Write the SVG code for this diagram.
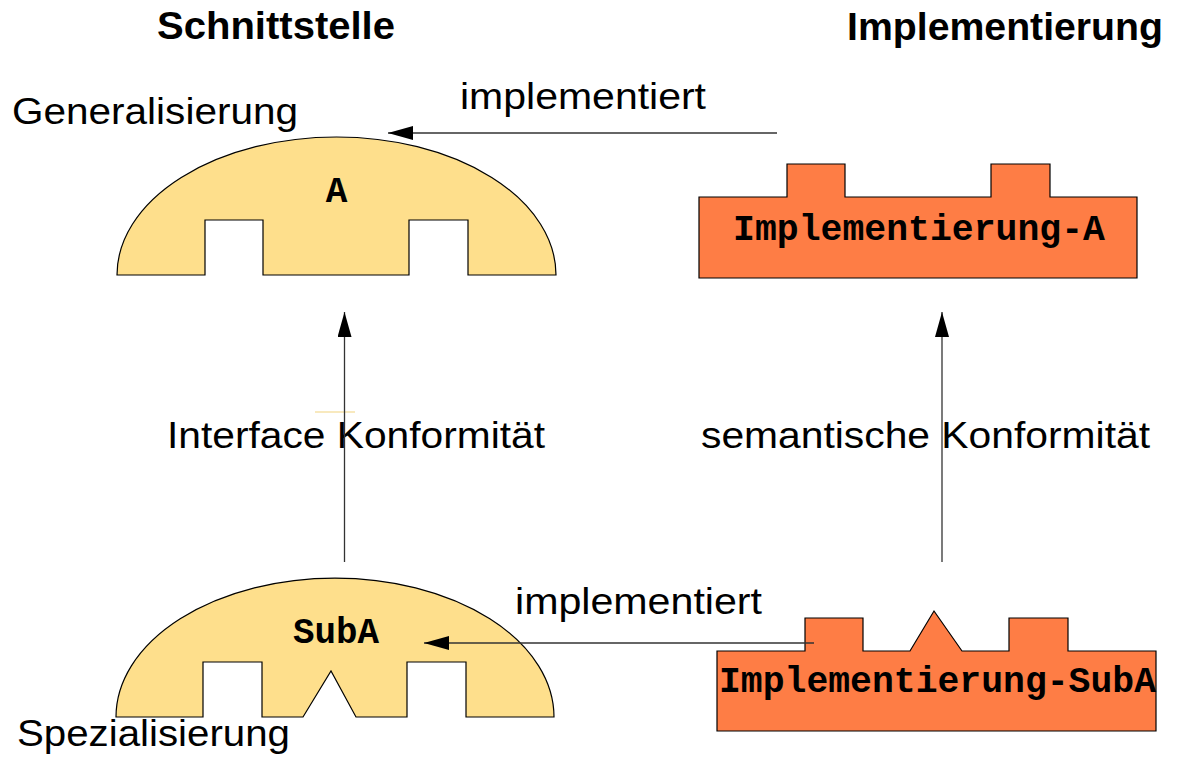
<svg xmlns="http://www.w3.org/2000/svg" width="1185" height="758" viewBox="0 0 1185 758">
<defs>
<style>
.iface{fill:#FEDF8C;stroke:#000;stroke-width:1.2;stroke-linejoin:miter}
.impl{fill:#FE7D45;stroke:#000;stroke-width:1.2;stroke-linejoin:miter}
.mono{font-family:"Liberation Mono","Courier New",monospace;font-weight:bold;font-size:36px;fill:#000}
.lbl{font-family:"Liberation Sans",Arial,sans-serif;font-size:36px;fill:#000}
.head{font-family:"Liberation Sans",Arial,sans-serif;font-size:38px;font-weight:bold;fill:#000}
.conn{stroke:#333;stroke-width:1.3;fill:none;marker-end:url(#arr)}
</style>
<marker id="arr" markerUnits="userSpaceOnUse" markerWidth="26" markerHeight="16" refX="25" refY="7" orient="auto">
<path d="M0,0 L25,7 L0,14 Z" fill="#000"/>
</marker>
</defs>
<rect width="1185" height="758" fill="#fff"/>
<text class="head" x="157" y="39" textLength="238" lengthAdjust="spacingAndGlyphs">Schnittstelle</text>
<text class="head" x="847" y="40" textLength="316" lengthAdjust="spacingAndGlyphs">Implementierung</text>
<g id="nodeA">
<path class="iface" d="M117,275 A219.5,138 0 0 1 556,275 L468,275 L468,220 L409,220 L409,275 L263,275 L263,220 L205,220 L205,275 Z"/>
<text class="mono" x="336.5" y="202" text-anchor="middle">A</text>
</g>
<g id="nodeImplA">
<path class="impl" d="M699,197 L787,197 L787,164 L845,164 L845,197 L991,197 L991,164 L1050,164 L1050,197 L1137,197 L1137,278 L699,278 Z"/>
<text class="mono" x="733" y="240" textLength="372" lengthAdjust="spacingAndGlyphs">Implementierung-A</text>
</g>
<g id="nodeSubA">
<path class="iface" d="M116,717 A219,139 0 0 1 554,717 L466,717 L466,662 L407,662 L407,717 L356,717 L331,671 L303,717 L262,717 L262,662 L203,662 L203,717 Z"/>
<text class="mono" x="293" y="643" textLength="86" lengthAdjust="spacingAndGlyphs">SubA</text>
</g>
<g id="nodeImplSubA">
<path class="impl" d="M717,651 L805,651 L805,618 L863,618 L863,651 L910,651 L934,611 L962,651 L1009,651 L1009,618 L1068,618 L1068,651 L1156,651 L1156,731 L717,731 Z"/>
<text class="mono" x="719" y="692" textLength="437" lengthAdjust="spacingAndGlyphs">Implementierung-SubA</text>
</g>
<g id="labels">
<text class="lbl" x="12" y="124" textLength="286" lengthAdjust="spacingAndGlyphs">Generalisierung</text>
<text class="lbl" x="460" y="109" textLength="246" lengthAdjust="spacingAndGlyphs">implementiert</text>
<text class="lbl" x="167" y="448" textLength="378" lengthAdjust="spacingAndGlyphs">Interface Konformität</text>
<text class="lbl" x="701" y="448" textLength="449" lengthAdjust="spacingAndGlyphs">semantische Konformität</text>
<text class="lbl" x="515" y="614" textLength="247" lengthAdjust="spacingAndGlyphs">implementiert</text>
<text class="lbl" x="17" y="746" textLength="273" lengthAdjust="spacingAndGlyphs">Spezialisierung</text>
</g>
<line x1="315" y1="412" x2="355" y2="412" stroke="#F6E2A8" stroke-width="1.5"/>
<g id="connectors">
<line class="conn" x1="777" y1="133" x2="388" y2="133"/>
<line class="conn" x1="814" y1="643" x2="424" y2="643"/>
<line class="conn" x1="344.5" y1="562" x2="344.5" y2="312"/>
<line class="conn" x1="942" y1="562" x2="942" y2="312"/>
</g>
</svg>
